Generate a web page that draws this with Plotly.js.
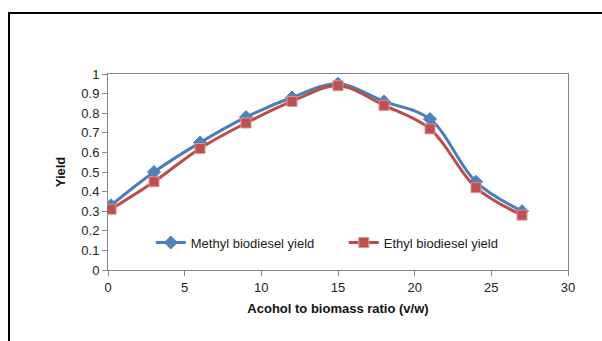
<!DOCTYPE html>
<html>
<head>
<meta charset="utf-8">
<script src="https://cdn.plot.ly/plotly-3.0.1.min.js"></script>
<style>
  html, body { margin: 0; padding: 0; background: #fff; }
  #chart { width: 602px; height: 341px; }
</style>
</head>
<body>
<div id="chart"></div>
<script>
// Alcohol-to-biomass ratio (v/w) at which each yield was measured
const ratio = [0.2, 3, 6, 9, 12, 15, 18, 21, 24, 27];

// Biodiesel yields for each alcohol
const methylYield = [0.33, 0.50, 0.65, 0.78, 0.88, 0.95, 0.86, 0.77, 0.45, 0.30];
const ethylYield  = [0.31, 0.45, 0.62, 0.75, 0.86, 0.94, 0.84, 0.72, 0.42, 0.28];

const seriesNames = ['Methyl biodiesel yield', 'Ethyl biodiesel yield'];
const xTitle = 'Acohol to biomass ratio (v/w)';
const yTitle = 'Yield';

const FONT = 'Liberation Sans, Arial, sans-serif';
const AXIS_GREY = '#868686';

const traces = [
  {
    x: ratio, y: methylYield, name: seriesNames[0],
    type: 'scatter', mode: 'lines+markers',
    line: { color: '#4A7EBB', width: 3, shape: 'spline', smoothing: 1 },
    marker: { symbol: 'diamond', size: 10, color: '#4F81BD', line: { color: '#4A7EBB', width: 1 } }
  },
  {
    x: ratio, y: ethylYield, name: seriesNames[1],
    type: 'scatter', mode: 'lines+markers',
    line: { color: '#BE4B48', width: 3, shape: 'spline', smoothing: 1 },
    marker: { symbol: 'square', size: 10, color: '#C0504D', line: { color: '#D99694', width: 1 } }
  }
];

const layout = {
  width: 602, height: 341,
  margin: { l: 108, r: 34, t: 74, b: 71 },
  paper_bgcolor: '#ffffff', plot_bgcolor: '#ffffff',
  font: { family: FONT, size: 12, color: '#222' },
  showlegend: true,
  legend: {
    orientation: 'h', x: 0.093, xanchor: 'left', y: 0.14, yanchor: 'middle',
    bgcolor: 'rgba(0,0,0,0)', font: { family: FONT, size: 13, color: '#222' },
    entrywidth: 148, entrywidthmode: 'pixels', itemwidth: 30
  },
  xaxis: {
    range: [0, 30], dtick: 5, tick0: 0,
    showgrid: false, zeroline: false,
    showline: true, mirror: true, linecolor: AXIS_GREY, linewidth: 1,
    ticks: 'outside', ticklen: 5, tickcolor: AXIS_GREY,
    tickfont: { family: FONT, size: 13, color: '#222' },
    title: { text: xTitle, font: { family: FONT, size: 13, color: '#111', weight: 'bold' }, standoff: 10 }
  },
  yaxis: {
    range: [0, 1], dtick: 0.1, tick0: 0,
    showgrid: false, zeroline: false,
    showline: true, mirror: true, linecolor: AXIS_GREY, linewidth: 1,
    ticks: 'outside', ticklen: 5, tickcolor: AXIS_GREY,
    tickfont: { family: FONT, size: 13, color: '#222' },
    title: { text: yTitle, font: { family: FONT, size: 13, color: '#111', weight: 'bold' }, standoff: 12 }
  },
  shapes: [
    // outer chart frame (left and top edges visible)
    { type: 'rect', xref: 'paper', yref: 'paper',
      x0: -0.2152, x1: 1.2, y0: -0.5, y1: 1.311,
      line: { color: '#000', width: 2 }, fillcolor: 'rgba(0,0,0,0)', layer: 'below' }
  ]
};

Plotly.newPlot('chart', traces, layout, { displayModeBar: false, staticPlot: true });
</script>
</body>
</html>
